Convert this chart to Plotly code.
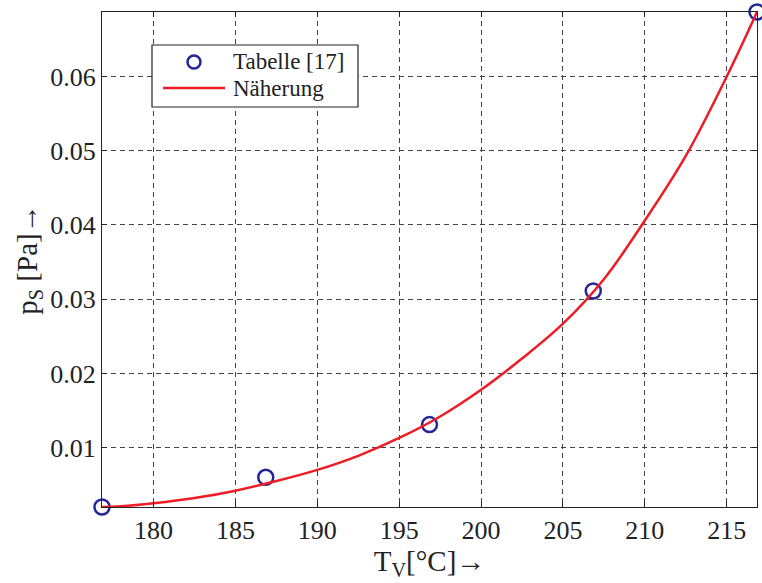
import plotly.graph_objects as go

# Tabulated saturation pressure (temperature in degC, pressure in Pa)
table_temp = [176.85, 186.85, 196.85, 206.85, 216.85]
table_ps = [0.0020, 0.0060, 0.0131, 0.0311, 0.0687]

# Approximation curve
fit_temp = [176.85, 178.0, 180.0, 182.5, 185.0, 187.5, 190.0, 192.5, 195.0,
            197.5, 200.0, 202.5, 205.0, 207.5, 210.0, 212.5, 215.0, 216.85]
fit_ps = [0.0020, 0.0021, 0.0025, 0.0032, 0.0042, 0.0055, 0.0070, 0.0089, 0.0113,
          0.0142, 0.0178, 0.0220, 0.0267, 0.0327, 0.0406, 0.0493, 0.0600, 0.0687]

x_ticks = [180, 185, 190, 195, 200, 205, 210, 215]
y_ticks = [0.01, 0.02, 0.03, 0.04, 0.05, 0.06]

legend_labels = ["Tabelle [17]", "Näherung"]

serif = "Liberation Serif"
ink = "#222222"
marker_color = "#25259a"
line_color = "#ee1c25"

fig = go.Figure()
fig.add_trace(go.Scatter(
    x=table_temp, y=table_ps, mode="markers", name=legend_labels[0],
    marker=dict(symbol="circle-open", size=15, color=marker_color,
                line=dict(width=2.5, color=marker_color)),
    cliponaxis=False, showlegend=False,
))
fig.add_trace(go.Scatter(
    x=fit_temp, y=fit_ps, mode="lines", name=legend_labels[1],
    line=dict(color=line_color, width=2.5, shape="spline", smoothing=1.0),
    cliponaxis=False, showlegend=False,
))

axis_common = dict(
    showgrid=True, gridcolor="#444444", griddash="5px,4px", gridwidth=1,
    showline=True, linecolor=ink, linewidth=1.2, mirror="ticks",
    ticks="inside", ticklen=5, tickcolor=ink,
    tickfont=dict(family=serif, size=26, color=ink),
    zeroline=False,
)

fig.update_xaxes(
    range=[176.85, 216.85], tickvals=x_ticks,
    title=dict(text="T<sub>V</sub>[°C]→", font=dict(family=serif, size=29, color=ink),
               standoff=4),
    **axis_common,
)
fig.update_yaxes(
    range=[0.002, 0.0687], tickvals=y_ticks, tickformat=".2f",
    title=dict(text="p<sub>S</sub> [Pa]→", font=dict(family=serif, size=29, color=ink),
               standoff=4),
    **axis_common,
)

# Legend box drawn in paper coordinates (plot area: 655 x 495 px)
W, H = 655.0, 495.0


def px(dx):
    return dx / W


def py(dy):
    return dy / H


box_l, box_r, box_t, box_b = 50, 256, 462, 400  # offsets from plot's left / bottom
fig.add_shape(type="rect", xref="paper", yref="paper",
              x0=px(box_l), x1=px(box_r), y0=py(box_b), y1=py(box_t),
              line=dict(color=ink, width=1.2), fillcolor="white", layer="above")
# marker sample
fig.add_shape(type="circle", xref="paper", yref="paper",
              x0=px(92 - 6.5), x1=px(92 + 6.5), y0=py(445 - 6.5), y1=py(445 + 6.5),
              line=dict(color=marker_color, width=2.5), layer="above")
# line sample
fig.add_shape(type="line", xref="paper", yref="paper",
              x0=px(61), x1=px(123), y0=py(419), y1=py(419),
              line=dict(color=line_color, width=2.5), layer="above")
for label, yy in zip(legend_labels, [445, 419]):
    fig.add_annotation(x=px(129), y=py(yy), xref="paper", yref="paper",
                       text=label, showarrow=False, xanchor="left", yanchor="middle",
                       font=dict(family=serif, size=23, color=ink))

fig.update_layout(
    width=762, height=583,
    margin=dict(l=102, r=5, t=12, b=76),
    paper_bgcolor="white", plot_bgcolor="white",
    showlegend=False,
)

fig.write_html("out.html")
